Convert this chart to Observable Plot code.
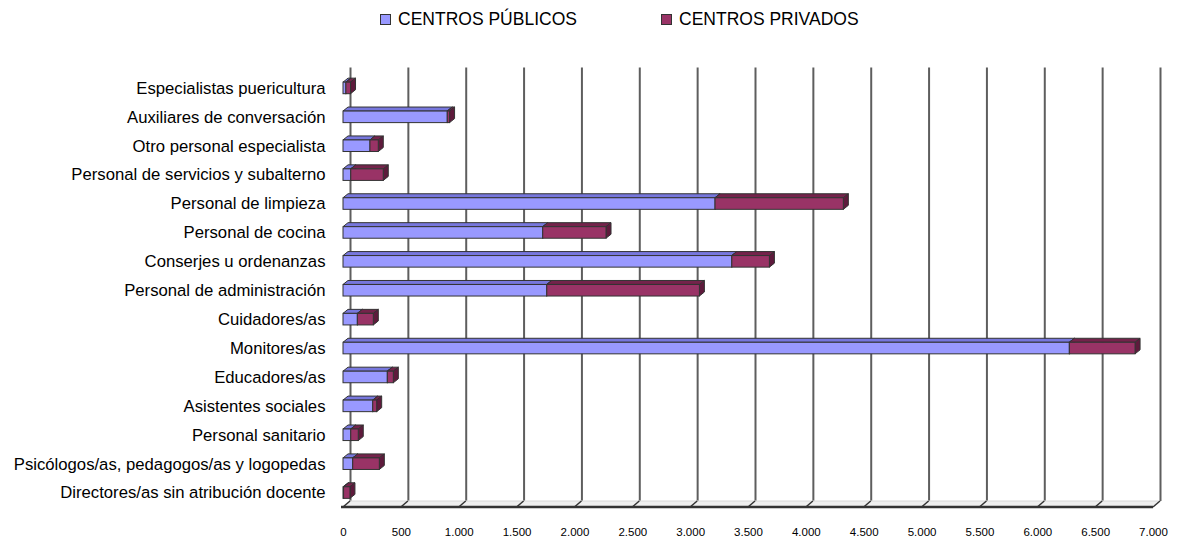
<!DOCTYPE html>
<html><head><meta charset="utf-8">
<script src="https://cdn.jsdelivr.net/npm/d3@7"></script>
<script src="https://cdn.jsdelivr.net/npm/@observablehq/plot@0.6"></script>
<style>
body{margin:0;background:#fff;font-family:"Liberation Sans",Arial,sans-serif;}
#legend{position:relative;height:40px;width:1184px;}
.item{position:absolute;top:9px;font-size:17.5px;line-height:20px;color:#000;white-space:nowrap;padding-left:18px;}
.sw{position:absolute;left:0;top:5px;width:9px;height:9px;border:1px solid #333;}
</style></head><body>
<div id="legend"></div>
<div id="chart"></div>
<script>
const categories = [
  "Especialistas puericultura",
  "Auxiliares de conversación",
  "Otro personal especialista",
  "Personal de servicios y subalterno",
  "Personal de limpieza",
  "Personal de cocina",
  "Conserjes u ordenanzas",
  "Personal de administración",
  "Cuidadores/as",
  "Monitores/as",
  "Educadores/as",
  "Asistentes sociales",
  "Personal sanitario",
  "Psicólogos/as, pedagogos/as y logopedas",
  "Directores/as sin atribución docente"
];
const publicos = [25, 901, 233, 67, 3215, 1726, 3360, 1761, 124, 6277, 383, 257, 67, 84, 5];
const privados = [40, 20, 72, 281, 1109, 547, 325, 1319, 138, 568, 52, 34, 65, 230, 55];
const xTicks = [0, 500, 1000, 1500, 2000, 2500, 3000, 3500, 4000, 4500, 5000, 5500, 6000, 6500, 7000];
const seriesNames = ["CENTROS PÚBLICOS", "CENTROS PRIVADOS"];
const colors = ["#9999ff", "#993366"];
const topColors = ["#7777dd", "#74234b"];
const sideColors = ["#6262c4", "#5e1a3c"];

// legend
const legendPos = [380, 661];
const legend = document.getElementById("legend");
seriesNames.forEach((n, i) => {
  const it = document.createElement("div");
  it.className = "item";
  it.style.left = legendPos[i] + "px";
  const sw = document.createElement("span");
  sw.className = "sw";
  sw.style.background = colors[i];
  it.appendChild(sw);
  it.appendChild(document.createTextNode(n));
  legend.appendChild(it);
});

const data = categories.map((c, i) => ({cat: c, pub: publicos[i], priv: privados[i]}));
const A = 5, B = -4;   // bar depth offset
const W = 7, H = -6;   // wall depth offset
const fmt = d => d3.format(",")(d).replace(/,/g, ".");

function floorMark(index, scales, values, dims) {
  const x = scales.x;
  const F = dims.height - dims.marginBottom;
  const g = d3.create("svg:g");
  const x0 = x(xTicks[0]), x1 = x(xTicks[xTicks.length - 1]);
  g.append("polygon")
    .attr("points", [[x0, F], [x1, F], [x1 + W, F + H], [x0 + W, F + H]].map(p => p.join(",")).join(" "))
    .attr("fill", "#efefef").attr("stroke", "none");
  g.append("line").attr("x1", x0 + W).attr("x2", x1 + W).attr("y1", F + H).attr("y2", F + H)
    .attr("stroke", "#d8d8d8").attr("stroke-width", 1);
  for (const t of xTicks) {
    g.append("line").attr("x1", x(t)).attr("y1", F).attr("x2", x(t) + W).attr("y2", F + H)
      .attr("stroke", "#333").attr("stroke-width", 1.5);
  }
  g.append("line").attr("x1", x0 - 2).attr("x2", x1).attr("y1", F).attr("y2", F)
    .attr("stroke", "#333").attr("stroke-width", 2.5);
  return g.node();
}

function prismMark(index, scales, values, dims) {
  const x = scales.x, y = scales.y;
  const bw = y.bandwidth ? y.bandwidth() : 11.5;
  const g = d3.create("svg:g").attr("stroke", "#333").attr("stroke-width", 1).attr("stroke-linejoin", "round");
  const segs = [];
  data.forEach(d => segs.push({cat: d.cat, a: 0, b: d.pub, s: 0}));
  data.forEach(d => segs.push({cat: d.cat, a: d.pub, b: d.pub + d.priv, s: 1}));
  const pts = arr => arr.map(p => p.join(",")).join(" ");
  for (const s of segs) {
    const xa = x(s.a), xb = x(s.b), y0 = y(s.cat), y1 = y0 + bw;
    g.append("polygon").attr("points", pts([[xa, y0], [xb, y0], [xb + A, y0 + B], [xa + A, y0 + B]]))
      .attr("fill", topColors[s.s]);
    g.append("polygon").attr("points", pts([[xb, y0], [xb, y1], [xb + A, y1 + B], [xb + A, y0 + B]]))
      .attr("fill", sideColors[s.s]);
  }
  return g.node();
}

const chart = Plot.plot({
  width: 1184,
  height: 502,
  marginTop: 33.5,
  marginBottom: 35,
  marginLeft: 343,
  marginRight: 31,
  style: {fontFamily: "'Liberation Sans', Arial, sans-serif", fontSize: "11px", color: "#000", background: "#fff"},
  x: {domain: [0, 7000], label: null},
  y: {domain: categories, range: [24.8, 475.7], padding: 0.6, round: false, label: null},
  marks: [
    Plot.ruleX(xTicks, {x: d => d, dx: W, dy: H, stroke: "#5e5e5e", strokeWidth: 2}),
    floorMark,
    prismMark,
    Plot.barX(data, {x1: () => 0, x2: "pub", y: "cat", fill: colors[0], stroke: "#333", strokeWidth: 1}),
    Plot.barX(data, {x1: "pub", x2: d => d.pub + d.priv, y: "cat", fill: colors[1], stroke: "#333", strokeWidth: 1}),
    Plot.axisY({tickSize: 0, tickPadding: 18, fontSize: 16.7, fill: "#000"}),
    Plot.axisX(xTicks, {tickSize: 0, tickPadding: 20, tickFormat: fmt, fontSize: 11.5, fill: "#000"})
  ]
});
document.getElementById("chart").appendChild(chart);
</script>
</body></html>
